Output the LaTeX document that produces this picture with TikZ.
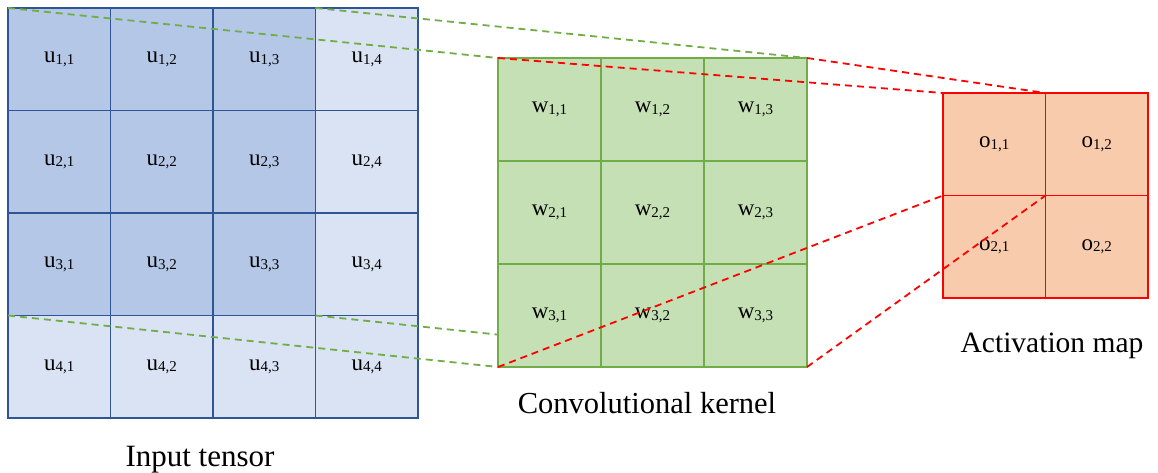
\documentclass[tikz,border=0pt]{standalone}
\usepackage{fontspec}
\setmainfont{Liberation Serif}
\definecolor{inblue}{HTML}{B4C7E7}
\definecolor{inpale}{HTML}{DAE3F3}
\definecolor{inedge}{HTML}{2F5597}
\definecolor{kgreen}{HTML}{C5E0B4}
\definecolor{kedge}{HTML}{70AD47}
\definecolor{apeach}{HTML}{F8CBAD}
\definecolor{aedge}{HTML}{FF0000}
\newcommand{\entry}[2]{{\fontsize{23}{23}\selectfont #1}{\fontsize{15}{15}\selectfont\raisebox{-1.5pt}{#2}}}
\pgfdeclarelayer{bottom}
\pgfdeclarelayer{middle}
\pgfsetlayers{bottom,middle,main}

\begin{document}
\begin{tikzpicture}[
  x=1pt, y=-1pt,
  every node/.style={inner sep=0pt, outer sep=0pt},
  inbold/.style={rectangle, fill=inblue, draw=inedge, line width=1.8pt, minimum size=102.5pt},
  inlight/.style={rectangle, fill=inpale, draw=inedge, line width=1.8pt, minimum size=102.5pt},
  kernel/.style={rectangle, fill=kgreen, draw=kedge, line width=1.8pt, minimum size=103pt},
  actmap/.style={rectangle, fill=apeach, draw=aedge, line width=1.8pt, minimum size=102.5pt},
  caption/.style={font=\fontsize{30.5}{30.5}\selectfont, anchor=base},
  greenedge/.style={draw=kedge, line width=1.8pt, dash pattern=on 7pt off 5pt},
  rededge/.style={draw=aedge, line width=1.8pt, dash pattern=on 7pt off 5pt},
]
\useasboundingbox (0,0) rectangle (1158,473);

% ---- input tensor (4x4) ----
\begin{pgfonlayer}{bottom}
\node[inbold]  (u11) at (59.25, 59.25)  {\entry{u}{1,1}};
\node[inbold]  (u12) at (161.75, 59.25) {\entry{u}{1,2}};
\node[inbold]  (u13) at (264.25, 59.25) {\entry{u}{1,3}};
\node[inlight] (u14) at (366.75, 59.25) {\entry{u}{1,4}};
\node[inbold]  (u21) at (59.25, 161.75)  {\entry{u}{2,1}};
\node[inbold]  (u22) at (161.75, 161.75) {\entry{u}{2,2}};
\node[inbold]  (u23) at (264.25, 161.75) {\entry{u}{2,3}};
\node[inlight] (u24) at (366.75, 161.75) {\entry{u}{2,4}};
\node[inbold]  (u31) at (59.25, 264.25)  {\entry{u}{3,1}};
\node[inbold]  (u32) at (161.75, 264.25) {\entry{u}{3,2}};
\node[inbold]  (u33) at (264.25, 264.25) {\entry{u}{3,3}};
\node[inlight] (u34) at (366.75, 264.25) {\entry{u}{3,4}};
\node[inlight] (u41) at (59.25, 366.75)  {\entry{u}{4,1}};
\node[inlight] (u42) at (161.75, 366.75) {\entry{u}{4,2}};
\node[inlight] (u43) at (264.25, 366.75) {\entry{u}{4,3}};
\node[inlight] (u44) at (366.75, 366.75) {\entry{u}{4,4}};
\end{pgfonlayer}

% ---- convolutional kernel (3x3) ----
\node[kernel] (w11) at (549.5, 109.5) {\entry{w}{1,1}};
\node[kernel] (w12) at (652.5, 109.5) {\entry{w}{1,2}};
\node[kernel] (w13) at (755.5, 109.5) {\entry{w}{1,3}};
\node[kernel] (w21) at (549.5, 212.5) {\entry{w}{2,1}};
\node[kernel] (w22) at (652.5, 212.5) {\entry{w}{2,2}};
\node[kernel] (w23) at (755.5, 212.5) {\entry{w}{2,3}};
\node[kernel] (w31) at (549.5, 315.5) {\entry{w}{3,1}};
\node[kernel] (w32) at (652.5, 315.5) {\entry{w}{3,2}};
\node[kernel] (w33) at (755.5, 315.5) {\entry{w}{3,3}};

% ---- activation map (2x2) ----
\node[actmap] (o11) at (994.25, 144.25)  {\entry{o}{1,1}};
\node[actmap] (o12) at (1096.75, 144.25) {\entry{o}{1,2}};
\node[actmap] (o21) at (994.25, 246.75)  {\entry{o}{2,1}};
\node[actmap] (o22) at (1096.75, 246.75) {\entry{o}{2,2}};

% ---- captions ----
\node[caption, font=\fontsize{31}{31}\selectfont] (lin) at (200, 466) {Input tensor};
\node[caption] (lker) at (647, 413)  {Convolutional kernel};
\node[caption, font=\fontsize{29.5}{29.5}\selectfont] (lact) at (1052, 352) {Activation map};

% ---- receptive field: input -> kernel (green, under the kernel) ----
\begin{pgfonlayer}{middle}
\draw[greenedge] (u11.north west) -- (w11.north west);
\draw[greenedge] (u14.north west) -- (w13.north east);
\draw[greenedge] (u41.north west) -- (w31.south west);
\draw[greenedge] (u44.north west) -- (w33.south east);
\end{pgfonlayer}

% ---- kernel -> activation (red) ----
\draw[rededge] (w11.north west) -- (o11.north west);
\draw[rededge] (w13.north east) -- (o12.north west);
\draw[rededge] (w31.south west) -- (o21.north west);
\draw[rededge] (w33.south east) -- (o22.north west);

\end{tikzpicture}
\end{document}
